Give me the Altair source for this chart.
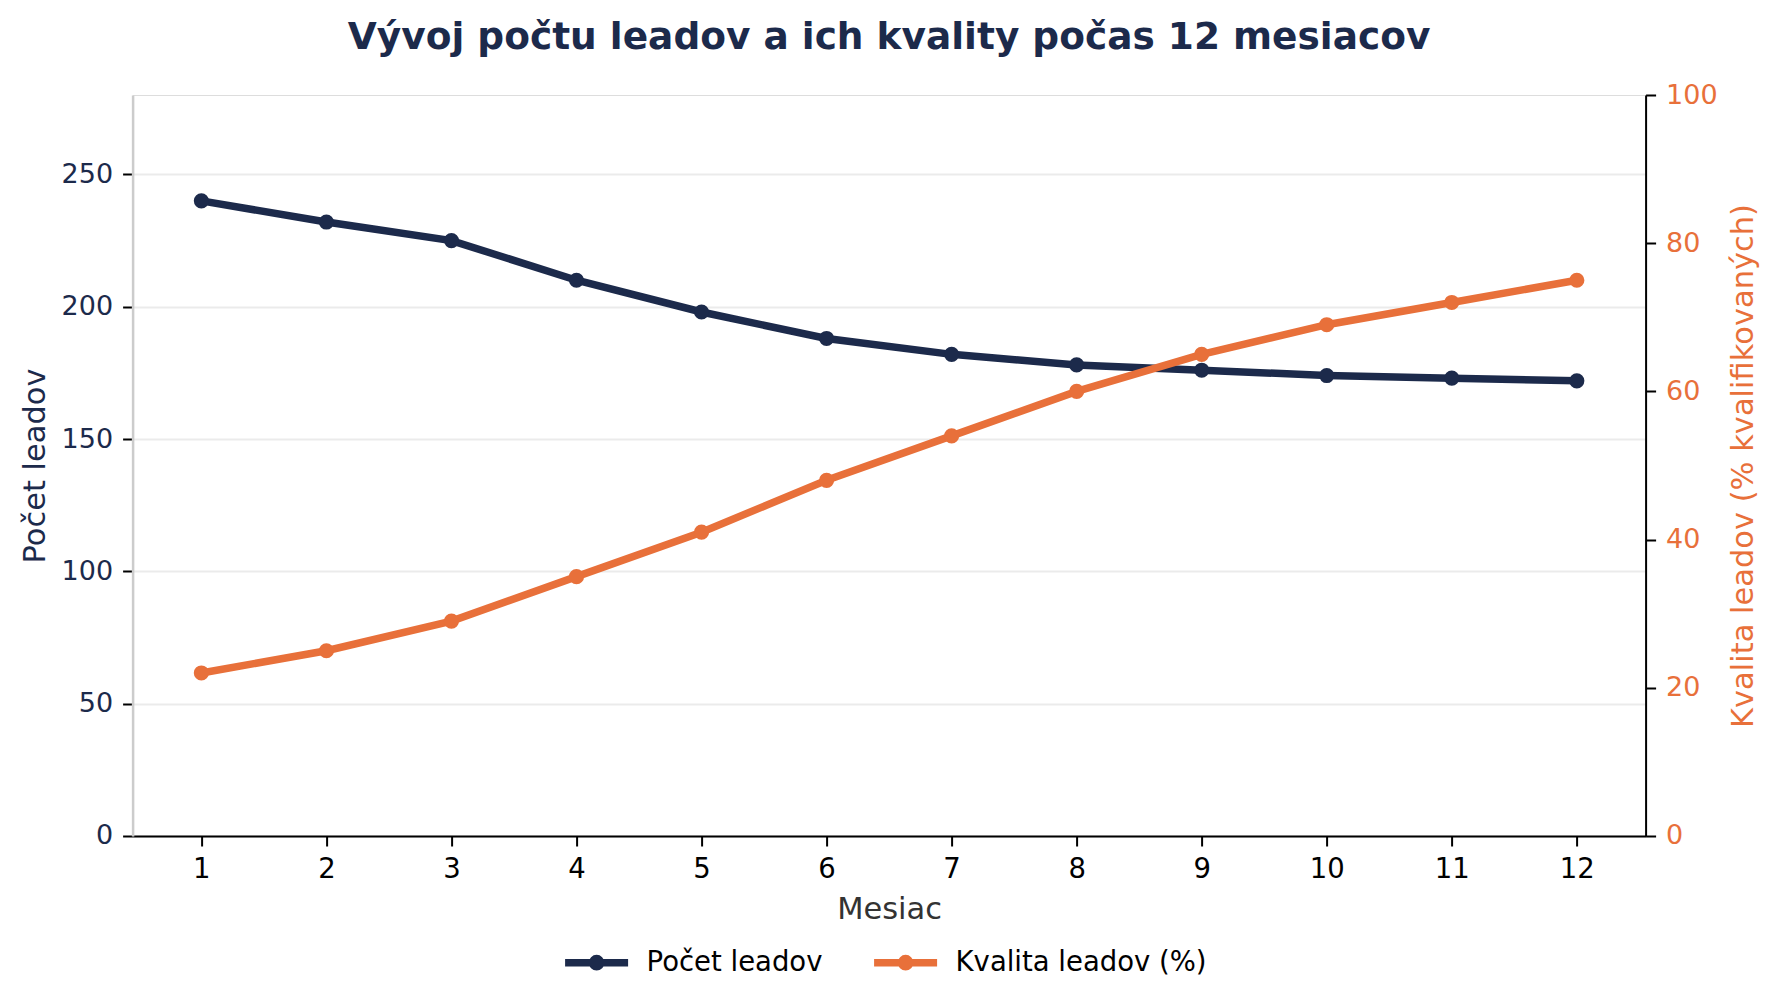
import altair as alt
import pandas as pd

months = [1, 2, 3, 4, 5, 6, 7, 8, 9, 10, 11, 12]
leads = [240, 232, 225, 210, 198, 188, 182, 178, 176, 174, 173, 172]
quality = [22, 25, 29, 35, 41, 48, 54, 60, 65, 69, 72, 75]
series_names = ["Počet leadov", "Kvalita leadov (%)"]
left_ticks = [0, 50, 100, 150, 200, 250]
right_ticks = [0, 20, 40, 60, 80, 100]

NAVY = "#1c2a4b"
ORANGE = "#e8703a"
FONT = "DejaVu Sans"

df = pd.DataFrame({"month": months, "leads": leads, "quality": quality})

color_scale = alt.Scale(domain=series_names, range=[NAVY, ORANGE])
legend_path = ("M-1,0L1,0M-0.13,0A0.13,0.13 0 1,1 0.13,0"
               "A0.13,0.13 0 1,1 -0.13,0Z")

x_enc = alt.X(
    "month:Q",
    scale=alt.Scale(domain=[0.45, 12.55], nice=False, zero=False),
    axis=alt.Axis(
        values=months, format="d", title="Mesiac", grid=False,
        domainColor="black", domainWidth=2, tickColor="black", tickWidth=2,
        tickSize=10, labelColor="black", labelFontSize=27.5, labelPadding=10,
        titleColor="#333333", titleFontSize=30.5, titleFontWeight="normal",
        titlePadding=11, labelFont=FONT, titleFont=FONT,
    ),
)

legend = alt.Legend(
    title=None, orient="none", direction="horizontal",
    legendX=428.5, legendY=832, padding=0,
    symbolType=legend_path, symbolSize=3969, symbolStrokeWidth=7.5,
    labelFontSize=27.5, labelColor="black", labelFont=FONT, labelLimit=500,
    labelOffset=14.5, columnPadding=36,
)

line_leads = (
    alt.Chart(df)
    .transform_calculate(series="'Počet leadov'")
    .mark_line(strokeWidth=7.5, point=alt.OverlayMarkDef(size=230, filled=True))
    .encode(
        x=x_enc,
        y=alt.Y(
            "leads:Q",
            scale=alt.Scale(domain=[0, 280], nice=False),
            axis=alt.Axis(
                values=left_ticks, title="Počet leadov", grid=True,
                gridColor="#ebebeb", gridWidth=2,
                domainColor="#cccccc", domainWidth=2.5,
                tickColor="black", tickWidth=2, tickSize=10,
                labelColor=NAVY, labelFontSize=27, labelPadding=10,
                titleColor=NAVY, titleFontSize=30.5, titleFontWeight="normal",
                titlePadding=11, labelFont=FONT, titleFont=FONT,
            ),
        ),
        color=alt.Color("series:N", scale=color_scale, legend=legend),
    )
)

line_quality = (
    alt.Chart(df)
    .transform_calculate(series="'Kvalita leadov (%)'")
    .mark_line(strokeWidth=7.5, point=alt.OverlayMarkDef(size=230, filled=True))
    .encode(
        x=x_enc,
        y=alt.Y(
            "quality:Q",
            scale=alt.Scale(domain=[0, 100], nice=False),
            axis=alt.Axis(
                orient="right", values=right_ticks,
                title="Kvalita leadov (% kvalifikovaných)", grid=False,
                domainColor="black", domainWidth=2,
                tickColor="black", tickWidth=2, tickSize=10,
                labelColor=ORANGE, labelFontSize=27, labelPadding=10,
                titleColor=ORANGE, titleFontSize=30.5, titleFontWeight="normal",
                titleAngle=270, titleBaseline="top",
                titlePadding=11, labelFont=FONT, titleFont=FONT,
            ),
        ),
        color=alt.Color("series:N", scale=color_scale, legend=legend),
    )
)

chart = (
    alt.layer(line_leads, line_quality)
    .resolve_scale(y="independent")
    .properties(
        width=1513,
        height=741,
        autosize=alt.AutoSizeParams(type="none"),
        padding={"left": 124.6, "top": 87, "right": 126, "bottom": 150},
        title=alt.TitleParams(
            "Vývoj počtu leadov a ich kvality počas 12 mesiacov",
            fontSize=37.5, fontWeight="bold", color=NAVY, font=FONT,
            anchor="middle", baseline="alphabetic", offset=-5,
        ),
    )
    .configure_view(stroke=None)
    .configure(background="white")
)

chart.save("out.html", embed_options={"renderer": "svg", "actions": False})
